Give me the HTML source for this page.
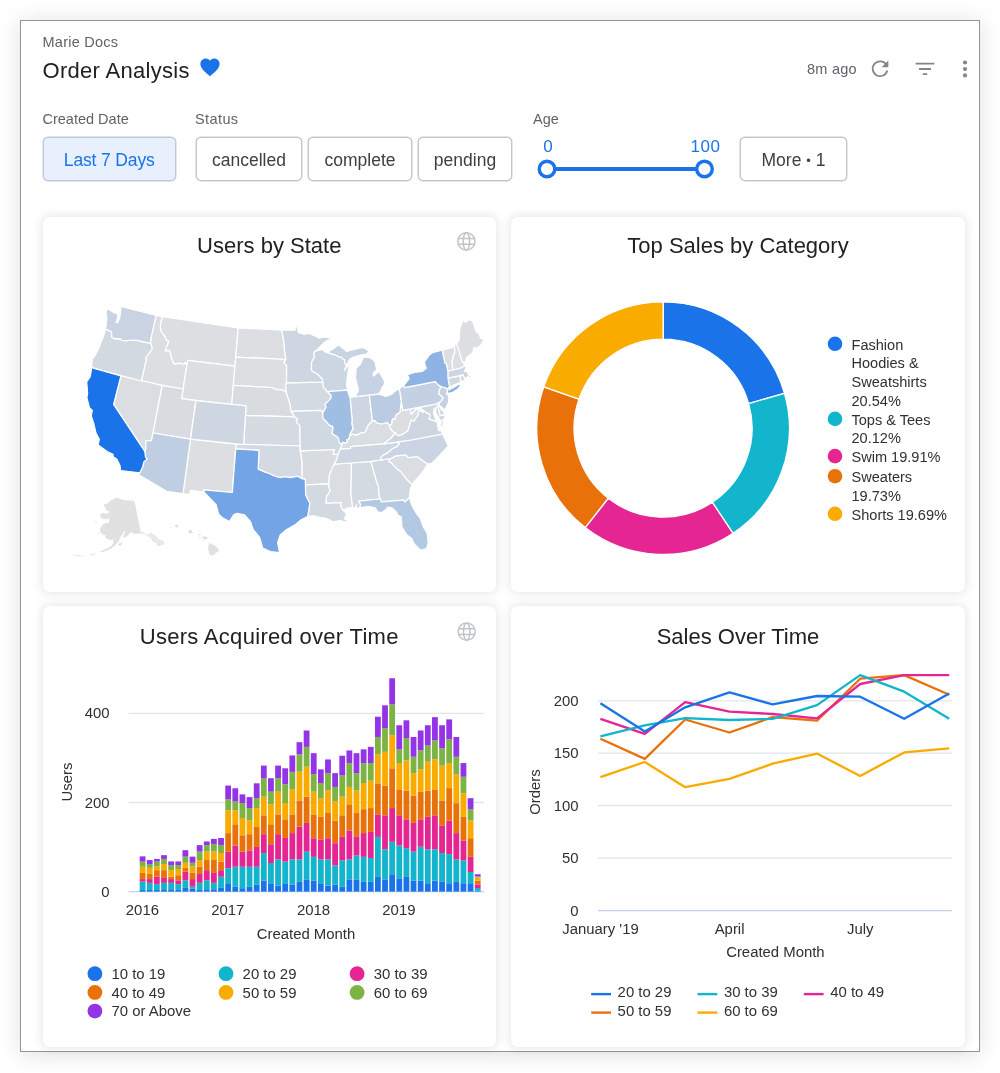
<!DOCTYPE html>
<html><head><meta charset="utf-8">
<style>
*{box-sizing:border-box;margin:0;padding:0}
html,body{width:1000px;height:1073px;background:#fff;overflow:hidden}
body{font-family:"Liberation Sans",sans-serif;position:relative;color:#202124}
.frame{position:absolute;left:20px;top:20px;width:960px;height:1032.3px;border:1px solid #90969c;background:#fff;box-shadow:0 2px 22px rgba(0,0,0,.13)}
.abs{position:absolute;white-space:nowrap}
.card{position:absolute;background:#fff;border-radius:7px;box-shadow:0 0 9px 3px rgba(0,0,0,.075)}
.lbl{color:#5f6368;font-size:14.5px;letter-spacing:.25px}
.btn{position:absolute;height:44px;top:137px;border:1px solid #c3c7cc;box-shadow:0 0 0 .45px #c3c7cc;border-radius:5px;background:#fff;color:#3c4043;font-size:17.5px;line-height:44.6px;text-align:center;white-space:nowrap}
.title{position:absolute;left:0;width:100%;text-align:center;font-size:22px;color:#202124;white-space:nowrap}
svg{position:absolute;left:0;top:0;overflow:visible}
svg text{font-family:"Liberation Sans",sans-serif}
.lg{font-size:14.9px;fill:#2d3034}
.ax{font-size:14.9px;fill:#2d3034}
</style></head><body>
<div class="frame"></div>
<div class="abs lbl" style="left:42.5px;top:33.5px;">Marie Docs</div>
<div class="abs" style="left:42.5px;top:58.2px;font-size:22px;color:#202124;letter-spacing:.3px">Order Analysis</div>
<div class="abs lbl" style="left:807px;top:60.5px;">8m ago</div>
<div class="abs lbl" style="left:42.5px;top:111.3px;letter-spacing:0">Created Date</div>
<div class="abs lbl" style="left:195px;top:111.3px;letter-spacing:.4px">Status</div>
<div class="abs lbl" style="left:533px;top:111.3px;letter-spacing:0">Age</div>
<div class="btn" style="left:43px;width:132.5px;background:#e8f0fe;border-color:#c0c9d8;box-shadow:0 0 0 .45px #c0c9d8;color:#1a73e8;letter-spacing:-.15px">Last 7 Days</div>
<div class="btn" style="left:196px;width:106px">cancelled</div>
<div class="btn" style="left:308px;width:104px">complete</div>
<div class="btn" style="left:418px;width:94px">pending</div>
<div class="btn" style="left:740px;width:107px">More <span style="font-size:13px;position:relative;top:-1px">•</span> 1</div>
<div class="abs" style="left:543.3px;top:137px;font-size:17px;color:#1a73e8">0</div>
<div class="abs" style="left:690.5px;top:137px;letter-spacing:.5px;font-size:17px;color:#1a73e8">100</div>
<div class="card" style="left:42.5px;top:216.5px;width:453.5px;height:375.5px"><div class="title" style="top:16.5px">Users by State</div></div>
<div class="card" style="left:511px;top:216.5px;width:454px;height:375.5px"><div class="title" style="top:16.5px">Top Sales by Category</div></div>
<div class="card" style="left:42.5px;top:606px;width:453.5px;height:440.5px"><div class="title" style="top:17.5px;letter-spacing:.3px">Users Acquired over Time</div></div>
<div class="card" style="left:511px;top:606px;width:454px;height:440.5px"><div class="title" style="top:17.5px">Sales Over Time</div></div>
<svg width="1000" height="1073" viewBox="0 0 1000 1073">
<!-- header icons -->
<path fill="#1a73e8" d="M210 76.3C204.6 71.6 200.4 68.3 200.4 64C200.4 60.9 202.8 58.6 205.7 58.6C207.4 58.6 209 59.4 210 60.8C211 59.4 212.6 58.6 214.3 58.6C217.2 58.6 219.6 60.9 219.6 64C219.6 68.3 215.4 71.6 210 76.3Z"/>
<g fill="none" stroke="#80868b" stroke-width="1.8">
<path d="M886.6 65.2A7.4 7.4 0 1 0 887.3 70.5"/>
<path d="M915.6 63.6H934.4M919 69H931M922.8 74.2H927.2"/>
</g>
<path fill="#80868b" d="M888.3 60.6V67.2H881.7Z"/>
<g fill="#80868b"><circle cx="965" cy="62.5" r="2.1"/><circle cx="965" cy="69" r="2.1"/><circle cx="965" cy="75.4" r="2.1"/></g>
<!-- slider -->
<path d="M547 169H704.5" stroke="#1a73e8" stroke-width="4"/>
<circle cx="547" cy="169" r="7.8" fill="#fff" stroke="#1a73e8" stroke-width="3.4"/>
<circle cx="704.5" cy="169" r="7.8" fill="#fff" stroke="#1a73e8" stroke-width="3.4"/>
<!-- globes -->
<g fill="none" stroke="#c0c4c9" stroke-width="1.5">
<g><circle cx="466.4" cy="241.4" r="8.6"/><ellipse cx="466.4" cy="241.4" rx="3.2" ry="8.6"/><path d="M458.4 238.5H474.4M458.4 244.3H474.4"/></g>
<g transform="translate(0.3,390.2)"><circle cx="466.4" cy="241.4" r="8.6"/><ellipse cx="466.4" cy="241.4" rx="3.2" ry="8.6"/><path d="M458.4 238.5H474.4M458.4 244.3H474.4"/></g>
</g>
<g stroke="#fff" stroke-width="1.25" stroke-linejoin="round">
<path fill="#dcdee1" d="M156.1 315.3L162.3 316.6L160.3 326.1L161.3 331.8L163.5 334.4L165.3 337.5L167.0 340.5L168.7 340.8L167.5 345.0L165.3 350.9L169.6 350.3L170.2 352.4L171.5 358.1L173.7 363.4L175.0 364.1L178.6 363.2L184.0 364.1L185.1 362.4L186.9 365.3L183.1 389.0L162.2 385.3L141.4 381.0L145.2 364.0L146.4 359.8L145.4 358.1L148.9 353.4L152.2 349.2L151.2 345.1L150.6 343.4L150.7 339.3Z"/>
<path fill="#dcdee1" d="M162.3 316.6L238.2 327.9L235.0 366.1L187.7 360.4L186.9 365.3L185.1 362.4L184.0 364.1L178.6 363.2L175.0 364.1L173.7 363.4L171.5 358.1L170.2 352.4L169.6 350.3L165.3 350.9L167.5 345.0L168.7 340.8L167.0 340.5L165.3 337.5L163.5 334.4L161.3 331.8L160.3 326.1Z"/>
<path fill="#dcdee1" d="M187.7 360.4L235.0 366.1L231.7 404.7L181.6 398.6Z"/>
<path fill="#dcdee1" d="M190.5 439.2L236.4 444.1L235.7 448.9L232.3 492.5L203.5 489.8L204.0 492.0L190.4 490.3L189.8 494.7L183.0 493.7Z"/>
<path fill="#dcdee1" d="M238.2 327.9L281.8 330.1L282.6 334.8L284.1 343.4L284.4 350.1L285.9 359.5L235.7 357.1Z"/>
<path fill="#dcdee1" d="M235.7 357.1L285.9 359.5L283.9 362.6L286.6 365.5L286.5 382.9L285.5 385.8L286.5 392.7L282.6 390.0L276.3 389.6L272.1 387.5L233.3 385.4Z"/>
<path fill="#dcdee1" d="M401.3 401.6L402.8 410.4L410.3 409.1L411.2 414.1L414.2 411.1L415.8 409.3L419.7 408.1L423.7 410.6L423.3 412.5L418.9 410.1L418.2 414.5L416.4 417.5L413.8 421.3L410.9 420.0L410.8 421.5L409.3 426.2L407.8 430.9L404.0 433.5L401.6 434.9L398.0 435.9L395.4 433.0L395.4 433.0L392.7 431.8L389.8 427.6L389.5 425.2L391.6 424.1L391.9 421.1L392.7 418.7L394.8 419.2L395.7 415.9L396.4 414.3L399.6 412.6L400.3 411.5L400.3 409.0L400.7 407.0L401.0 404.0L401.3 401.6Z"/>
<path fill="#dcdee1" d="M442.3 350.2L454.4 347.0L455.0 351.9L453.0 356.4L452.7 359.5L452.0 361.7L452.4 364.6L452.6 367.5L453.5 370.0L447.9 371.2L446.2 363.6L445.1 363.4L444.2 359.6L443.1 354.9Z"/>
<path fill="#dcdee1" d="M454.4 347.0L454.6 345.0L456.5 343.6L459.0 350.9L462.0 361.1L464.6 363.7L464.3 365.8L461.7 367.8L453.5 370.0L452.6 367.5L452.4 364.6L452.0 361.7L452.7 359.5L453.0 356.4L455.0 351.9Z"/>
<path fill="#dcdee1" d="M456.5 343.6L458.0 342.1L459.6 337.7L459.3 332.8L459.9 328.7L462.8 320.3L465.6 322.2L468.9 319.5L472.8 321.2L476.2 331.9L479.2 334.0L480.5 338.1L484.3 339.4L481.4 344.4L477.5 348.1L473.8 347.7L473.0 352.5L468.9 355.7L466.3 357.9L465.1 362.7L464.6 363.7L462.0 361.1L459.0 350.9Z"/>
<path fill="#dadde1" d="M120.9 376.0L162.2 385.3L153.0 433.0L151.5 440.7L146.4 440.7L145.8 441.6L145.7 449.5L144.8 451.3L113.6 404.3Z"/>
<path fill="#dadde1" d="M328.6 483.9L329.3 475.1L332.1 468.2L334.2 464.2L350.6 463.0L351.5 463.9L350.9 493.1L352.6 507.5L348.5 507.9L342.8 510.2L340.4 505.5L341.2 502.6L325.9 503.4L326.4 496.6L330.1 490.6L329.2 488.7Z"/>
<path fill="#dadde1" d="M340.2 449.2L342.0 444.4L342.4 442.2L345.9 443.2L347.2 441.8L346.6 439.9L349.0 438.9L349.5 435.8L352.7 434.0L356.6 435.1L360.9 432.8L364.7 432.4L366.3 429.6L368.4 424.8L372.4 420.8L374.6 420.5L377.1 423.1L381.8 424.0L387.2 422.3L389.5 425.2L389.8 427.6L392.7 431.8L395.4 433.0L390.6 438.5L383.7 443.8L350.4 446.6L350.6 448.4Z"/>
<path fill="#dadde1" d="M390.3 458.7L395.8 455.9L405.9 454.9L408.3 457.7L417.1 456.5L427.4 464.0L423.5 471.1L418.4 476.9L414.9 480.9L412.2 484.5L407.0 479.8L401.4 472.3L395.5 467.7L390.8 462.5L388.7 461.8L390.3 458.7Z"/>
<path fill="#d8dce1" d="M162.2 385.3L183.1 389.0L181.6 398.6L195.9 400.7L190.5 439.2L153.0 433.0Z"/>
<path fill="#d8dce1" d="M233.3 385.4L272.1 387.5L276.3 389.6L282.6 390.0L286.5 392.7L287.2 395.5L288.9 400.4L290.4 405.2L290.7 410.1L291.3 411.3L294.8 416.9L245.4 415.5L246.1 405.8L231.7 404.7Z"/>
<path fill="#d8dce1" d="M300.2 450.8L334.5 449.5L333.1 454.5L338.3 454.2L336.3 460.1L334.2 464.2L332.1 468.2L329.3 475.1L328.6 483.9L305.4 484.8L305.3 479.4L301.8 478.6L301.9 461.5Z"/>
<path fill="#d8dce1" d="M459.8 375.6L462.6 374.7L465.7 379.1L464.0 380.6L461.0 382.2Z"/>
<path fill="#d6dbe1" d="M245.4 415.5L294.8 416.9L297.7 419.0L296.3 421.2L297.8 423.6L299.9 425.4L300.2 446.0L243.6 444.6Z"/>
<path fill="#d6dbe1" d="M436.9 403.9L438.0 402.5L439.5 402.5L439.1 405.6L441.0 409.2L443.8 411.5L444.9 414.8L440.1 415.7Z"/>
<path fill="#d4dae1" d="M236.4 444.1L300.2 446.0L300.2 450.8L301.9 461.5L301.8 478.6L297.6 476.3L289.6 477.6L284.9 476.7L280.1 477.6L274.2 476.0L269.1 473.5L264.4 471.9L258.2 469.1L259.0 450.3L235.7 448.9Z"/>
<path fill="#d4dae1" d="M286.5 382.9L322.9 382.1L323.4 386.9L327.4 391.6L331.1 395.2L331.0 398.1L328.3 401.2L324.9 404.3L326.1 407.2L323.1 412.2L320.7 410.4L291.3 411.3L290.7 410.1L290.4 405.2L288.9 400.4L287.2 395.5L286.5 392.7L285.5 385.8Z"/>
<path fill="#d4dae1" d="M350.6 463.0L370.9 461.3L376.5 481.2L378.5 486.5L379.0 493.8L380.0 499.0L358.7 501.2L360.6 504.4L360.1 507.9L356.0 508.7L356.5 504.8L355.1 507.8L352.6 507.5L350.9 493.1L351.5 463.9Z"/>
<path fill="#d2d9e1" d="M105.1 329.0L109.1 330.7L111.0 331.4L111.8 333.7L111.6 336.9L114.5 338.8L120.1 338.7L121.8 340.3L126.6 340.6L133.0 340.0L137.0 340.3L150.6 343.4L151.2 345.1L152.2 349.2L148.9 353.4L145.4 358.1L146.4 359.8L145.2 364.0L141.4 381.0L91.5 367.7L92.2 359.3L95.5 354.8L98.2 349.5L100.3 344.1L102.5 338.7L104.8 332.4Z"/>
<path fill="#d2d9e1" d="M305.4 484.8L328.6 483.9L329.2 488.7L330.1 490.6L326.4 496.6L325.9 503.4L341.2 502.6L340.4 505.5L342.8 510.2L344.6 511.5L346.5 514.8L344.2 518.8L348.5 519.9L345.3 522.1L340.1 520.5L332.6 521.9L329.1 519.7L324.8 518.0L320.6 517.7L313.0 515.7L307.6 516.6L308.7 510.8L309.8 503.0L307.6 499.2L305.6 494.4Z"/>
<path fill="#d2d9e1" d="M448.0 378.2L459.8 375.6L461.0 382.2L456.7 383.9L454.0 384.7L452.4 386.1L449.3 388.3L448.5 387.5L450.0 386.1L449.3 385.3Z"/>
<path fill="#d0d8e1" d="M291.3 411.3L320.7 410.4L323.1 412.2L322.6 417.1L323.7 419.0L326.9 422.2L328.6 424.6L330.0 425.6L332.7 426.3L333.0 428.9L331.8 433.1L334.7 435.2L336.7 436.2L338.7 438.5L338.8 441.5L339.8 443.3L342.0 444.4L340.2 449.2L339.2 451.2L338.3 454.2L333.1 454.5L334.5 449.5L300.2 450.8L299.9 425.4L297.8 423.6L296.3 421.2L297.7 419.0L294.8 416.9Z"/>
<path fill="#d0d8e1" d="M410.3 409.1L436.9 403.9L440.1 415.7L444.9 414.8L444.4 419.1L441.5 420.5L439.8 420.9L439.0 417.6L435.8 413.3L436.0 407.3L434.1 408.7L433.4 412.8L435.3 418.3L437.2 421.9L437.2 421.9L431.9 420.1L429.0 419.1L429.8 415.5L429.5 414.1L425.7 412.4L423.7 410.6L423.7 410.6L419.7 408.1L415.8 409.3L414.2 411.1L411.2 414.1Z"/>
<path fill="#d0d8e1" d="M370.9 461.3L380.8 460.0L390.3 458.7L388.7 461.8L390.8 462.5L395.5 467.7L401.4 472.3L407.0 479.8L412.2 484.5L410.2 490.0L409.4 497.8L405.0 502.0L403.4 500.1L381.5 501.8L380.0 499.0L380.0 499.0L379.0 493.8L378.5 486.5L376.5 481.2Z"/>
<path fill="#ced7e1" d="M195.9 400.7L246.1 405.8L243.6 444.6L190.5 439.2Z"/>
<path fill="#ced7e1" d="M281.8 330.1L295.1 330.1L295.1 326.5L297.3 327.0L298.3 332.4L303.8 334.2L309.3 333.4L315.5 336.2L319.5 338.2L323.3 336.8L331.9 338.2L325.5 341.5L319.3 347.5L315.5 351.1L314.2 352.1L314.4 357.4L311.6 362.3L311.5 370.5L317.1 373.7L322.2 378.7L322.9 382.1L286.5 382.9L286.6 365.5L283.9 362.6L285.9 359.5L284.4 350.1L284.1 343.4L282.6 334.8Z"/>
<path fill="#ced7e1" d="M334.2 464.2L336.3 460.1L338.3 454.2L339.2 451.2L340.2 449.2L350.6 448.4L350.4 446.6L383.7 443.8L398.9 441.8L399.1 444.1L396.8 446.9L392.8 448.5L389.3 451.4L386.4 453.6L382.4 455.8L380.7 457.9L380.8 460.0L370.9 461.3L350.6 463.0Z"/>
<path fill="#ced7e1" d="M349.5 435.8L350.1 433.8L353.0 428.6L351.8 423.9L352.1 420.4L350.1 397.7L352.3 396.9L355.2 396.6L369.3 395.1L372.4 420.8L368.4 424.8L366.3 429.6L364.7 432.4L360.9 432.8L356.6 435.1L352.7 434.0L349.5 435.8Z"/>
<path fill="#ced7e1" d="M383.7 443.8L398.9 441.8L409.4 440.5L442.8 434.2L441.5 431.0L438.7 430.6L437.6 425.3L437.2 421.9L431.9 420.1L429.0 419.1L429.8 415.5L429.5 414.1L425.7 412.4L423.7 410.6L423.3 412.5L418.9 410.1L418.2 414.5L416.4 417.5L413.8 421.3L410.9 420.0L410.8 421.5L409.3 426.2L407.8 430.9L404.0 433.5L401.6 434.9L398.0 435.9L395.4 433.0L390.6 438.5L383.7 443.8Z"/>
<path fill="#ced7e1" d="M441.0 428.9L442.8 424.7L443.8 420.5L444.4 419.1L441.5 420.5L440.5 424.7L440.3 427.2Z"/>
<path fill="#ccd5e2" d="M315.5 351.1L322.7 349.3L324.5 351.6L326.8 352.4L335.7 355.2L339.2 356.9L341.9 357.1L342.6 358.7L344.8 359.8L344.7 362.7L345.9 364.8L346.6 365.1L344.4 370.5L350.2 362.7L348.9 367.2L348.0 372.6L347.1 378.5L346.5 385.3L347.4 387.7L347.4 390.1L327.4 391.6L323.4 386.9L322.9 382.1L322.9 382.1L322.2 378.7L317.1 373.7L311.5 370.5L311.6 362.3L314.4 357.4L314.2 352.1Z"/>
<path fill="#ccd5e2" d="M448.0 378.2L447.9 371.2L453.5 370.0L461.7 367.8L464.3 365.8L466.4 367.4L464.5 371.4L466.7 371.3L467.9 373.5L469.3 375.5L472.7 374.4L472.1 373.1L470.7 372.5L470.6 372.0L471.6 371.9L472.7 373.2L473.5 375.3L471.0 376.4L468.9 378.0L467.9 376.3L465.7 379.1L462.6 374.7L459.8 375.6Z"/>
<path fill="#cbd4e2" d="M380.8 460.0L380.7 457.9L382.4 455.8L386.4 453.6L389.3 451.4L392.8 448.5L396.8 446.9L399.1 444.1L398.9 441.8L409.4 440.5L442.8 434.2L448.3 445.9L441.8 453.2L432.1 463.1L427.4 464.0L427.4 464.0L417.1 456.5L408.3 457.7L405.9 454.9L395.8 455.9L390.3 458.7Z"/>
<path fill="#c9d3e2" d="M121.1 306.3L156.1 315.3L150.7 339.3L150.6 343.4L137.0 340.3L133.0 340.0L126.6 340.6L121.8 340.3L120.1 338.7L114.5 338.8L111.6 336.9L111.8 333.7L111.0 331.4L109.1 330.7L105.1 329.0L106.4 324.8L106.4 322.4L106.9 318.5L106.0 312.7L106.9 308.2L113.2 312.3L117.8 313.9L117.5 318.1L116.1 322.2L117.7 322.7L119.4 318.7L120.5 314.0L120.6 310.1Z"/>
<path fill="#c7d2e2" d="M369.3 395.1L355.2 396.6L358.4 390.1L355.5 378.2L356.1 367.9L360.2 364.6L363.5 356.9L368.9 357.3L371.8 358.8L375.0 361.8L376.7 369.4L373.1 373.7L373.4 376.1L379.0 371.5L384.5 381.0L384.4 384.4L382.3 387.2L380.8 390.5L378.9 394.2Z"/>
<path fill="#c7d2e2" d="M326.8 352.4L335.7 355.2L339.2 356.9L341.9 357.1L342.6 358.7L344.8 359.8L344.7 362.7L345.9 364.8L346.6 365.1L350.1 358.8L354.6 356.5L363.2 354.6L365.2 354.8L368.9 351.9L366.9 349.3L362.4 347.4L355.2 349.1L346.8 351.4L342.5 347.9L339.3 345.3L342.7 342.6L337.0 346.0L332.0 349.7Z"/>
<path fill="#c5d1e2" d="M399.2 388.7L404.1 385.1L404.5 387.6L435.3 381.6L438.2 384.9L441.1 386.6L439.2 391.1L439.1 394.1L443.3 397.7L441.4 401.1L439.5 402.5L438.0 402.5L436.9 403.9L402.8 410.4Z"/>
<path fill="#c5d1e2" d="M441.1 386.6L447.5 388.7L447.4 391.8L446.2 394.0L448.1 394.1L448.9 400.9L447.5 404.7L444.9 410.0L441.3 407.1L439.1 405.6L439.5 402.5L441.4 401.1L443.3 397.7L439.1 394.1L439.2 391.1L441.1 386.6Z"/>
<path fill="#bfcee2" d="M153.0 433.0L190.5 439.2L183.0 493.7L166.6 491.3L138.7 474.9L139.8 472.8L142.7 466.7L143.8 461.9L147.2 458.9L145.5 457.3L144.8 451.3L145.7 449.5L145.8 441.6L146.4 440.7L151.5 440.7Z"/>
<path fill="#bbcce2" d="M369.3 395.1L378.9 394.2L383.1 395.4L386.1 396.4L389.5 395.0L391.9 394.1L394.1 391.8L399.2 388.7L401.3 401.6L401.0 404.0L400.7 407.0L400.3 409.0L400.3 411.5L399.6 412.6L396.4 414.3L395.7 415.9L394.8 419.2L392.7 418.7L391.9 421.1L391.6 424.1L389.5 425.2L389.5 425.2L387.2 422.3L381.8 424.0L377.1 423.1L374.6 420.5L372.4 420.8Z"/>
<path fill="#b3c8e2" d="M358.7 501.2L380.0 499.0L381.5 501.8L403.4 500.1L405.0 502.0L409.4 497.8L411.8 505.4L416.5 513.5L420.2 518.2L423.4 526.9L427.2 533.1L428.2 542.6L426.6 548.7L420.6 550.3L414.2 543.9L411.7 538.5L407.3 535.2L405.7 533.5L403.9 529.9L402.8 528.6L401.7 526.4L401.7 523.4L401.2 516.7L398.0 515.2L396.8 512.5L391.9 507.8L387.6 507.1L386.6 508.9L381.5 512.5L378.1 512.1L375.1 507.8L368.3 506.3L360.1 507.9L360.6 504.4Z"/>
<path fill="#a0bde3" d="M342.0 444.4L339.8 443.3L338.8 441.5L338.7 438.5L336.7 436.2L334.7 435.2L331.8 433.1L333.0 428.9L332.7 426.3L330.0 425.6L328.6 424.6L326.9 422.2L323.7 419.0L322.6 417.1L323.1 412.2L326.1 407.2L324.9 404.3L328.3 401.2L331.0 398.1L331.1 395.2L327.4 391.6L347.4 390.1L349.4 396.3L350.1 397.7L352.1 420.4L351.8 423.9L353.0 428.6L350.1 433.8L349.5 435.8L349.0 438.9L346.6 439.9L347.2 441.8L345.9 443.2L342.4 442.2L342.0 444.4Z"/>
<path fill="#8eb3e4" d="M404.5 387.6L404.1 385.1L409.1 378.5L407.3 374.6L414.3 372.4L422.6 371.4L426.2 368.2L424.3 362.2L429.6 354.6L433.3 352.3L442.3 350.2L443.1 354.9L444.2 359.6L445.1 363.4L446.2 363.6L447.9 371.2L448.0 378.2L449.3 385.3L450.0 386.1L448.5 387.5L449.3 388.3L448.7 390.0L456.5 385.8L458.3 384.3L461.6 384.2L458.0 389.0L452.8 392.3L448.0 393.6L447.4 391.8L447.5 388.7L441.1 386.6L438.2 384.9L435.3 381.6Z"/>
<path fill="#73a4e5" d="M235.7 448.9L259.0 450.3L258.2 469.1L264.4 471.9L269.1 473.5L274.2 476.0L280.1 477.6L284.9 476.7L289.6 477.6L297.6 476.3L301.8 478.6L305.3 479.4L305.6 494.4L307.6 499.2L309.8 503.0L308.7 510.8L307.6 516.6L300.6 520.1L295.6 524.5L286.3 529.8L280.2 535.0L277.6 542.7L279.6 552.6L270.4 551.6L262.7 548.0L259.6 537.4L253.1 529.5L250.5 521.6L244.6 514.9L237.1 513.3L233.7 514.8L229.4 521.5L222.5 517.8L218.6 514.1L216.1 504.7L207.9 496.1L204.0 492.0L203.5 489.8L232.3 492.5Z"/>
<path fill="#1a73e8" d="M91.5 367.7L120.9 376.0L113.6 404.3L144.8 451.3L145.5 457.3L147.2 458.9L143.8 461.9L142.7 466.7L139.8 472.8L120.5 470.6L120.1 465.8L116.7 459.1L113.2 456.7L113.0 454.2L107.5 451.7L98.2 445.0L99.3 439.2L95.9 432.8L93.7 423.1L91.3 416.3L91.7 412.9L92.5 410.6L89.4 407.7L86.9 397.8L87.6 393.0L86.7 382.0L90.3 376.5L91.3 370.2Z"/>
</g>
<g fill="#e1e1e1">
<path d="M134.6 501.4L131.5 500.5L128.6 500.6L125.6 500.2L123.3 500.0L121.0 498.9L118.7 498.5L116.4 497.3L114.2 499.0L111.8 500.1L109.3 501.5L107.8 503.6L104.4 504.2L103.3 505.7L105.3 507.3L106.4 510.5L108.7 511.2L108.7 513.2L105.9 513.8L103.0 513.0L99.8 514.4L101.3 518.2L102.8 518.8L106.3 519.3L109.3 518.3L108.8 523.0L106.6 522.8L103.3 524.0L101.2 527.1L100.1 528.6L100.4 532.1L102.4 534.8L105.0 534.8L105.5 538.0L107.9 539.3L110.5 540.2L113.2 539.3L113.0 543.7L111.0 546.0L107.1 548.3L103.0 550.3L98.8 552.0L103.8 551.7L107.8 550.1L110.8 548.7L114.7 545.5L117.5 542.8L119.3 540.5L120.1 537.8L122.6 533.7L124.1 531.2L125.7 531.2L123.5 535.3L123.1 538.1L126.1 536.9L128.5 535.0L130.7 532.1L132.5 532.9L135.1 533.9L139.3 533.6L141.0 533.6L143.8 533.6L144.0 532.3L140.8 532.3Z"/>
<path fill="#e9e9e9" d="M143.8 533.6L146.9 536.1L149.9 537.4L152.7 540.9L156.4 543.3L160.1 545.6L163.1 545.3L164.3 543.1L163.2 540.6L159.2 539.5L155.0 535.2L151.3 532.8L148.8 533.2L147.6 535.6L144.0 532.3Z"/>
<path d="M117.8 544.5L121.1 542.2L122.3 543.5L120.2 545.9Z"/>
<path d="M95.5 553.9L92.2 555.3L89.3 556.0L91.3 554.4L94.6 553.4Z"/>
<path d="M84.5 556.6L77.2 555.9L72.3 555.3L78.5 555.0Z"/>
<path d="M92.9 520.0L96.8 521.7L97.0 522.8L94.6 521.2Z"/>
<path d="M99.4 532.6L99.8 534.1L96.9 533.2Z"/>
<path d="M157.3 543.0L159.5 543.7L159.4 546.6L157.0 544.9Z"/>
<path d="M151.5 538.4L153.8 539.9L155.0 542.7L152.6 540.9Z"/>
<path d="M209.3 543.1L215.7 546.1L219.3 550.4L212.1 556.0L209.4 554.3L208.0 548.6Z"/>
<path d="M202.0 536.6L205.7 536.6L208.4 538.0L204.8 540.1L202.5 538.0Z"/>
<path d="M196.6 534.2L201.9 534.5L199.3 535.5Z"/>
<path d="M198.9 536.9L200.9 538.0L199.6 538.7Z"/>
<path d="M187.8 530.6L190.7 529.4L193.4 533.2L189.4 533.4Z"/>
<path d="M174.3 526.0L177.3 524.3L178.6 526.5L176.8 527.7Z"/>
<path d="M170.0 527.3L171.4 526.4L171.4 527.8Z"/>
</g>
<path fill="#1a73e8" stroke="#fff" stroke-width="1.3" d="M663.10 301.90A126.3 126.3 0 0 1 784.48 393.28L748.63 403.60A89.0 89.0 0 0 0 663.10 339.20Z"/>
<path fill="#12b5cb" stroke="#fff" stroke-width="1.3" d="M784.48 393.28A126.3 126.3 0 0 1 733.01 533.39L712.36 502.32A89.0 89.0 0 0 0 748.63 403.60Z"/>
<path fill="#e52592" stroke="#fff" stroke-width="1.3" d="M733.01 533.39A126.3 126.3 0 0 1 585.21 527.63L608.22 498.26A89.0 89.0 0 0 0 712.36 502.32Z"/>
<path fill="#e8710a" stroke="#fff" stroke-width="1.3" d="M585.21 527.63A126.3 126.3 0 0 1 543.76 386.85L579.00 399.06A89.0 89.0 0 0 0 608.22 498.26Z"/>
<path fill="#f9ab00" stroke="#fff" stroke-width="1.3" d="M543.76 386.85A126.3 126.3 0 0 1 663.10 301.90L663.10 339.20A89.0 89.0 0 0 0 579.00 399.06Z"/>
<circle cx="835" cy="343.8" r="7.3" fill="#1a73e8"/>
<circle cx="835" cy="418.9" r="7.3" fill="#12b5cb"/>
<circle cx="835" cy="456.1" r="7.3" fill="#e52592"/>
<circle cx="835" cy="476.2" r="7.3" fill="#e8710a"/>
<circle cx="835" cy="513.8" r="7.3" fill="#f9ab00"/>
<text x="851.5" y="349.8" class="lg" style="font-size:14.55px">Fashion</text>
<text x="851.5" y="368.4" class="lg" style="font-size:14.55px">Hoodies &amp;</text>
<text x="851.5" y="387.2" class="lg" style="font-size:14.55px">Sweatshirts</text>
<text x="851.5" y="405.8" class="lg" style="font-size:14.55px">20.54%</text>
<text x="851.5" y="424.8" class="lg" style="font-size:14.55px">Tops &amp; Tees</text>
<text x="851.5" y="443.3" class="lg" style="font-size:14.55px">20.12%</text>
<text x="851.5" y="462.3" class="lg" style="font-size:14.55px">Swim 19.91%</text>
<text x="851.5" y="482" class="lg" style="font-size:14.55px">Sweaters</text>
<text x="851.5" y="500.6" class="lg" style="font-size:14.55px">19.73%</text>
<text x="851.5" y="519.6" class="lg" style="font-size:14.55px">Shorts 19.69%</text>
<path d="M128.7 713.4H484M128.7 802.5H484" stroke="#e4e5e8" stroke-width="1.3"/>
<path d="M128.7 891.6H484" stroke="#c3d1ec" stroke-width="1.3"/>
<rect x="139.70" y="889.94" width="5.8" height="1.66" fill="#1a73e8"/>
<rect x="139.70" y="881.66" width="5.8" height="8.28" fill="#12b5cb"/>
<rect x="139.70" y="879.09" width="5.8" height="2.58" fill="#e52592"/>
<rect x="139.70" y="872.92" width="5.8" height="6.16" fill="#e8710a"/>
<rect x="139.70" y="866.76" width="5.8" height="6.16" fill="#f9ab00"/>
<rect x="139.70" y="861.61" width="5.8" height="5.15" fill="#7cb342"/>
<rect x="139.70" y="856.37" width="5.8" height="5.24" fill="#9334e6"/>
<rect x="146.83" y="889.94" width="5.8" height="1.66" fill="#1a73e8"/>
<rect x="146.83" y="882.86" width="5.8" height="7.08" fill="#12b5cb"/>
<rect x="146.83" y="879.09" width="5.8" height="3.77" fill="#e52592"/>
<rect x="146.83" y="874.03" width="5.8" height="5.06" fill="#e8710a"/>
<rect x="146.83" y="867.86" width="5.8" height="6.16" fill="#f9ab00"/>
<rect x="146.83" y="864.00" width="5.8" height="3.86" fill="#7cb342"/>
<rect x="146.83" y="860.05" width="5.8" height="3.96" fill="#9334e6"/>
<rect x="153.96" y="889.94" width="5.8" height="1.66" fill="#1a73e8"/>
<rect x="153.96" y="884.15" width="5.8" height="5.80" fill="#12b5cb"/>
<rect x="153.96" y="876.79" width="5.8" height="7.36" fill="#e52592"/>
<rect x="153.96" y="870.16" width="5.8" height="6.62" fill="#e8710a"/>
<rect x="153.96" y="866.49" width="5.8" height="3.68" fill="#f9ab00"/>
<rect x="153.96" y="861.61" width="5.8" height="4.88" fill="#7cb342"/>
<rect x="153.96" y="858.94" width="5.8" height="2.67" fill="#9334e6"/>
<rect x="161.09" y="889.21" width="5.8" height="2.39" fill="#1a73e8"/>
<rect x="161.09" y="882.86" width="5.8" height="6.35" fill="#12b5cb"/>
<rect x="161.09" y="877.98" width="5.8" height="4.88" fill="#e52592"/>
<rect x="161.09" y="870.16" width="5.8" height="7.82" fill="#e8710a"/>
<rect x="161.09" y="864.00" width="5.8" height="6.16" fill="#f9ab00"/>
<rect x="161.09" y="858.94" width="5.8" height="5.06" fill="#7cb342"/>
<rect x="161.09" y="855.17" width="5.8" height="3.77" fill="#9334e6"/>
<rect x="168.22" y="889.21" width="5.8" height="2.39" fill="#1a73e8"/>
<rect x="168.22" y="882.86" width="5.8" height="6.35" fill="#12b5cb"/>
<rect x="168.22" y="879.09" width="5.8" height="3.77" fill="#e52592"/>
<rect x="168.22" y="876.60" width="5.8" height="2.48" fill="#e8710a"/>
<rect x="168.22" y="870.16" width="5.8" height="6.44" fill="#f9ab00"/>
<rect x="168.22" y="865.11" width="5.8" height="5.06" fill="#7cb342"/>
<rect x="168.22" y="861.43" width="5.8" height="3.68" fill="#9334e6"/>
<rect x="175.35" y="889.94" width="5.8" height="1.66" fill="#1a73e8"/>
<rect x="175.35" y="884.15" width="5.8" height="5.80" fill="#12b5cb"/>
<rect x="175.35" y="880.28" width="5.8" height="3.86" fill="#e52592"/>
<rect x="175.35" y="875.22" width="5.8" height="5.06" fill="#e8710a"/>
<rect x="175.35" y="868.97" width="5.8" height="6.26" fill="#f9ab00"/>
<rect x="175.35" y="865.11" width="5.8" height="3.86" fill="#7cb342"/>
<rect x="175.35" y="861.43" width="5.8" height="3.68" fill="#9334e6"/>
<rect x="182.48" y="887.92" width="5.8" height="3.68" fill="#1a73e8"/>
<rect x="182.48" y="880.28" width="5.8" height="7.64" fill="#12b5cb"/>
<rect x="182.48" y="871.73" width="5.8" height="8.56" fill="#e52592"/>
<rect x="182.48" y="867.86" width="5.8" height="3.86" fill="#e8710a"/>
<rect x="182.48" y="862.81" width="5.8" height="5.06" fill="#f9ab00"/>
<rect x="182.48" y="856.64" width="5.8" height="6.16" fill="#7cb342"/>
<rect x="182.48" y="850.20" width="5.8" height="6.44" fill="#9334e6"/>
<rect x="189.61" y="888.84" width="5.8" height="2.76" fill="#1a73e8"/>
<rect x="189.61" y="886.72" width="5.8" height="2.12" fill="#12b5cb"/>
<rect x="189.61" y="879.09" width="5.8" height="7.64" fill="#e52592"/>
<rect x="189.61" y="872.92" width="5.8" height="6.16" fill="#e8710a"/>
<rect x="189.61" y="866.49" width="5.8" height="6.44" fill="#f9ab00"/>
<rect x="189.61" y="862.81" width="5.8" height="3.68" fill="#7cb342"/>
<rect x="189.61" y="856.64" width="5.8" height="6.16" fill="#9334e6"/>
<rect x="196.74" y="889.94" width="5.8" height="1.66" fill="#1a73e8"/>
<rect x="196.74" y="882.86" width="5.8" height="7.08" fill="#12b5cb"/>
<rect x="196.74" y="874.03" width="5.8" height="8.83" fill="#e52592"/>
<rect x="196.74" y="866.76" width="5.8" height="7.27" fill="#e8710a"/>
<rect x="196.74" y="860.05" width="5.8" height="6.72" fill="#f9ab00"/>
<rect x="196.74" y="851.58" width="5.8" height="8.46" fill="#7cb342"/>
<rect x="196.74" y="845.14" width="5.8" height="6.44" fill="#9334e6"/>
<rect x="203.87" y="889.21" width="5.8" height="2.39" fill="#1a73e8"/>
<rect x="203.87" y="880.28" width="5.8" height="8.92" fill="#12b5cb"/>
<rect x="203.87" y="870.16" width="5.8" height="10.12" fill="#e52592"/>
<rect x="203.87" y="860.05" width="5.8" height="10.12" fill="#e8710a"/>
<rect x="203.87" y="851.58" width="5.8" height="8.46" fill="#f9ab00"/>
<rect x="203.87" y="845.14" width="5.8" height="6.44" fill="#7cb342"/>
<rect x="203.87" y="841.46" width="5.8" height="3.68" fill="#9334e6"/>
<rect x="211.00" y="889.21" width="5.8" height="2.39" fill="#1a73e8"/>
<rect x="211.00" y="882.86" width="5.8" height="6.35" fill="#12b5cb"/>
<rect x="211.00" y="872.92" width="5.8" height="9.94" fill="#e52592"/>
<rect x="211.00" y="860.05" width="5.8" height="12.88" fill="#e8710a"/>
<rect x="211.00" y="851.58" width="5.8" height="8.46" fill="#f9ab00"/>
<rect x="211.00" y="843.95" width="5.8" height="7.64" fill="#7cb342"/>
<rect x="211.00" y="838.89" width="5.8" height="5.06" fill="#9334e6"/>
<rect x="218.13" y="887.92" width="5.8" height="3.68" fill="#1a73e8"/>
<rect x="218.13" y="876.79" width="5.8" height="11.13" fill="#12b5cb"/>
<rect x="218.13" y="870.16" width="5.8" height="6.62" fill="#e52592"/>
<rect x="218.13" y="861.61" width="5.8" height="8.56" fill="#e8710a"/>
<rect x="218.13" y="852.96" width="5.8" height="8.65" fill="#f9ab00"/>
<rect x="218.13" y="845.14" width="5.8" height="7.82" fill="#7cb342"/>
<rect x="218.13" y="837.97" width="5.8" height="7.18" fill="#9334e6"/>
<rect x="225.26" y="883.23" width="5.8" height="8.37" fill="#1a73e8"/>
<rect x="225.26" y="868.20" width="5.8" height="15.03" fill="#12b5cb"/>
<rect x="225.26" y="851.91" width="5.8" height="16.29" fill="#e52592"/>
<rect x="225.26" y="833.09" width="5.8" height="18.81" fill="#e8710a"/>
<rect x="225.26" y="810.32" width="5.8" height="22.77" fill="#f9ab00"/>
<rect x="225.26" y="799.25" width="5.8" height="11.07" fill="#7cb342"/>
<rect x="225.26" y="785.57" width="5.8" height="13.68" fill="#9334e6"/>
<rect x="232.39" y="886.83" width="5.8" height="4.77" fill="#1a73e8"/>
<rect x="232.39" y="866.76" width="5.8" height="20.07" fill="#12b5cb"/>
<rect x="232.39" y="845.43" width="5.8" height="21.33" fill="#e52592"/>
<rect x="232.39" y="824.27" width="5.8" height="21.15" fill="#e8710a"/>
<rect x="232.39" y="810.32" width="5.8" height="13.95" fill="#f9ab00"/>
<rect x="232.39" y="801.59" width="5.8" height="8.73" fill="#7cb342"/>
<rect x="232.39" y="788.27" width="5.8" height="13.32" fill="#9334e6"/>
<rect x="239.52" y="888.18" width="5.8" height="3.42" fill="#1a73e8"/>
<rect x="239.52" y="866.76" width="5.8" height="21.42" fill="#12b5cb"/>
<rect x="239.52" y="851.73" width="5.8" height="15.03" fill="#e52592"/>
<rect x="239.52" y="835.25" width="5.8" height="16.47" fill="#e8710a"/>
<rect x="239.52" y="817.97" width="5.8" height="17.28" fill="#f9ab00"/>
<rect x="239.52" y="803.12" width="5.8" height="14.85" fill="#7cb342"/>
<rect x="239.52" y="794.39" width="5.8" height="8.73" fill="#9334e6"/>
<rect x="246.65" y="886.83" width="5.8" height="4.77" fill="#1a73e8"/>
<rect x="246.65" y="866.76" width="5.8" height="20.07" fill="#12b5cb"/>
<rect x="246.65" y="850.38" width="5.8" height="16.38" fill="#e52592"/>
<rect x="246.65" y="834.17" width="5.8" height="16.20" fill="#e8710a"/>
<rect x="246.65" y="820.22" width="5.8" height="13.95" fill="#f9ab00"/>
<rect x="246.65" y="808.07" width="5.8" height="12.15" fill="#7cb342"/>
<rect x="246.65" y="797.09" width="5.8" height="10.98" fill="#9334e6"/>
<rect x="253.78" y="884.40" width="5.8" height="7.20" fill="#1a73e8"/>
<rect x="253.78" y="866.76" width="5.8" height="17.64" fill="#12b5cb"/>
<rect x="253.78" y="846.96" width="5.8" height="19.80" fill="#e52592"/>
<rect x="253.78" y="826.97" width="5.8" height="19.98" fill="#e8710a"/>
<rect x="253.78" y="808.07" width="5.8" height="18.90" fill="#f9ab00"/>
<rect x="253.78" y="798.17" width="5.8" height="9.90" fill="#7cb342"/>
<rect x="253.78" y="783.32" width="5.8" height="14.85" fill="#9334e6"/>
<rect x="260.91" y="880.53" width="5.8" height="11.07" fill="#1a73e8"/>
<rect x="260.91" y="853.08" width="5.8" height="27.45" fill="#12b5cb"/>
<rect x="260.91" y="834.17" width="5.8" height="18.90" fill="#e52592"/>
<rect x="260.91" y="815.27" width="5.8" height="18.90" fill="#e8710a"/>
<rect x="260.91" y="796.64" width="5.8" height="18.63" fill="#f9ab00"/>
<rect x="260.91" y="778.19" width="5.8" height="18.45" fill="#7cb342"/>
<rect x="260.91" y="765.59" width="5.8" height="12.60" fill="#9334e6"/>
<rect x="268.04" y="883.23" width="5.8" height="8.37" fill="#1a73e8"/>
<rect x="268.04" y="862.98" width="5.8" height="20.25" fill="#12b5cb"/>
<rect x="268.04" y="844.26" width="5.8" height="18.72" fill="#e52592"/>
<rect x="268.04" y="824.27" width="5.8" height="19.98" fill="#e8710a"/>
<rect x="268.04" y="804.29" width="5.8" height="19.98" fill="#f9ab00"/>
<rect x="268.04" y="791.69" width="5.8" height="12.60" fill="#7cb342"/>
<rect x="268.04" y="778.19" width="5.8" height="13.50" fill="#9334e6"/>
<rect x="275.17" y="885.48" width="5.8" height="6.12" fill="#1a73e8"/>
<rect x="275.17" y="859.38" width="5.8" height="26.10" fill="#12b5cb"/>
<rect x="275.17" y="834.17" width="5.8" height="25.20" fill="#e52592"/>
<rect x="275.17" y="814.37" width="5.8" height="19.80" fill="#e8710a"/>
<rect x="275.17" y="791.69" width="5.8" height="22.68" fill="#f9ab00"/>
<rect x="275.17" y="778.19" width="5.8" height="13.50" fill="#7cb342"/>
<rect x="275.17" y="765.59" width="5.8" height="12.60" fill="#9334e6"/>
<rect x="282.30" y="883.23" width="5.8" height="8.37" fill="#1a73e8"/>
<rect x="282.30" y="861.63" width="5.8" height="21.60" fill="#12b5cb"/>
<rect x="282.30" y="837.95" width="5.8" height="23.67" fill="#e52592"/>
<rect x="282.30" y="819.32" width="5.8" height="18.63" fill="#e8710a"/>
<rect x="282.30" y="803.12" width="5.8" height="16.20" fill="#f9ab00"/>
<rect x="282.30" y="784.22" width="5.8" height="18.90" fill="#7cb342"/>
<rect x="282.30" y="768.29" width="5.8" height="15.93" fill="#9334e6"/>
<rect x="289.43" y="884.40" width="5.8" height="7.20" fill="#1a73e8"/>
<rect x="289.43" y="859.38" width="5.8" height="25.02" fill="#12b5cb"/>
<rect x="289.43" y="833.09" width="5.8" height="26.28" fill="#e52592"/>
<rect x="289.43" y="814.37" width="5.8" height="18.72" fill="#e8710a"/>
<rect x="289.43" y="789.17" width="5.8" height="25.20" fill="#f9ab00"/>
<rect x="289.43" y="771.89" width="5.8" height="17.28" fill="#7cb342"/>
<rect x="289.43" y="755.42" width="5.8" height="16.47" fill="#9334e6"/>
<rect x="296.56" y="881.88" width="5.8" height="9.72" fill="#1a73e8"/>
<rect x="296.56" y="859.38" width="5.8" height="22.50" fill="#12b5cb"/>
<rect x="296.56" y="826.79" width="5.8" height="32.58" fill="#e52592"/>
<rect x="296.56" y="800.42" width="5.8" height="26.37" fill="#e8710a"/>
<rect x="296.56" y="771.62" width="5.8" height="28.80" fill="#f9ab00"/>
<rect x="296.56" y="754.25" width="5.8" height="17.37" fill="#7cb342"/>
<rect x="296.56" y="742.19" width="5.8" height="12.06" fill="#9334e6"/>
<rect x="303.69" y="879.36" width="5.8" height="12.24" fill="#1a73e8"/>
<rect x="303.69" y="851.73" width="5.8" height="27.63" fill="#12b5cb"/>
<rect x="303.69" y="822.92" width="5.8" height="28.80" fill="#e52592"/>
<rect x="303.69" y="796.64" width="5.8" height="26.28" fill="#e8710a"/>
<rect x="303.69" y="766.67" width="5.8" height="29.97" fill="#f9ab00"/>
<rect x="303.69" y="746.87" width="5.8" height="19.80" fill="#7cb342"/>
<rect x="303.69" y="730.48" width="5.8" height="16.38" fill="#9334e6"/>
<rect x="310.82" y="880.53" width="5.8" height="11.07" fill="#1a73e8"/>
<rect x="310.82" y="856.86" width="5.8" height="23.67" fill="#12b5cb"/>
<rect x="310.82" y="838.22" width="5.8" height="18.63" fill="#e52592"/>
<rect x="310.82" y="814.37" width="5.8" height="23.85" fill="#e8710a"/>
<rect x="310.82" y="791.69" width="5.8" height="22.68" fill="#f9ab00"/>
<rect x="310.82" y="774.32" width="5.8" height="17.37" fill="#7cb342"/>
<rect x="310.82" y="753.17" width="5.8" height="21.15" fill="#9334e6"/>
<rect x="317.95" y="883.23" width="5.8" height="8.37" fill="#1a73e8"/>
<rect x="317.95" y="859.38" width="5.8" height="23.85" fill="#12b5cb"/>
<rect x="317.95" y="839.39" width="5.8" height="19.98" fill="#e52592"/>
<rect x="317.95" y="816.89" width="5.8" height="22.50" fill="#e8710a"/>
<rect x="317.95" y="798.17" width="5.8" height="18.72" fill="#f9ab00"/>
<rect x="317.95" y="783.05" width="5.8" height="15.12" fill="#7cb342"/>
<rect x="317.95" y="769.37" width="5.8" height="13.68" fill="#9334e6"/>
<rect x="325.08" y="885.48" width="5.8" height="6.12" fill="#1a73e8"/>
<rect x="325.08" y="859.38" width="5.8" height="26.10" fill="#12b5cb"/>
<rect x="325.08" y="838.22" width="5.8" height="21.15" fill="#e52592"/>
<rect x="325.08" y="813.02" width="5.8" height="25.20" fill="#e8710a"/>
<rect x="325.08" y="790.52" width="5.8" height="22.50" fill="#f9ab00"/>
<rect x="325.08" y="773.15" width="5.8" height="17.37" fill="#7cb342"/>
<rect x="325.08" y="759.47" width="5.8" height="13.68" fill="#9334e6"/>
<rect x="332.21" y="884.40" width="5.8" height="7.20" fill="#1a73e8"/>
<rect x="332.21" y="865.50" width="5.8" height="18.90" fill="#12b5cb"/>
<rect x="332.21" y="843.18" width="5.8" height="22.32" fill="#e52592"/>
<rect x="332.21" y="820.49" width="5.8" height="22.68" fill="#e8710a"/>
<rect x="332.21" y="801.59" width="5.8" height="18.90" fill="#f9ab00"/>
<rect x="332.21" y="786.92" width="5.8" height="14.67" fill="#7cb342"/>
<rect x="332.21" y="773.15" width="5.8" height="13.77" fill="#9334e6"/>
<rect x="339.34" y="886.83" width="5.8" height="4.77" fill="#1a73e8"/>
<rect x="339.34" y="860.46" width="5.8" height="26.37" fill="#12b5cb"/>
<rect x="339.34" y="836.87" width="5.8" height="23.58" fill="#e52592"/>
<rect x="339.34" y="815.27" width="5.8" height="21.60" fill="#e8710a"/>
<rect x="339.34" y="796.64" width="5.8" height="18.63" fill="#f9ab00"/>
<rect x="339.34" y="775.49" width="5.8" height="21.15" fill="#7cb342"/>
<rect x="339.34" y="755.69" width="5.8" height="19.80" fill="#9334e6"/>
<rect x="346.47" y="879.36" width="5.8" height="12.24" fill="#1a73e8"/>
<rect x="346.47" y="859.38" width="5.8" height="19.98" fill="#12b5cb"/>
<rect x="346.47" y="830.39" width="5.8" height="28.98" fill="#e52592"/>
<rect x="346.47" y="804.29" width="5.8" height="26.10" fill="#e8710a"/>
<rect x="346.47" y="786.92" width="5.8" height="17.37" fill="#f9ab00"/>
<rect x="346.47" y="763.07" width="5.8" height="23.85" fill="#7cb342"/>
<rect x="346.47" y="750.47" width="5.8" height="12.60" fill="#9334e6"/>
<rect x="353.60" y="879.36" width="5.8" height="12.24" fill="#1a73e8"/>
<rect x="353.60" y="855.60" width="5.8" height="23.76" fill="#12b5cb"/>
<rect x="353.60" y="836.87" width="5.8" height="18.72" fill="#e52592"/>
<rect x="353.60" y="813.02" width="5.8" height="23.85" fill="#e8710a"/>
<rect x="353.60" y="790.52" width="5.8" height="22.50" fill="#f9ab00"/>
<rect x="353.60" y="773.15" width="5.8" height="17.37" fill="#7cb342"/>
<rect x="353.60" y="753.17" width="5.8" height="19.98" fill="#9334e6"/>
<rect x="360.73" y="881.88" width="5.8" height="9.72" fill="#1a73e8"/>
<rect x="360.73" y="856.86" width="5.8" height="25.02" fill="#12b5cb"/>
<rect x="360.73" y="833.09" width="5.8" height="23.76" fill="#e52592"/>
<rect x="360.73" y="809.15" width="5.8" height="23.94" fill="#e8710a"/>
<rect x="360.73" y="783.05" width="5.8" height="26.10" fill="#f9ab00"/>
<rect x="360.73" y="763.07" width="5.8" height="19.98" fill="#7cb342"/>
<rect x="360.73" y="749.39" width="5.8" height="13.68" fill="#9334e6"/>
<rect x="367.86" y="881.88" width="5.8" height="9.72" fill="#1a73e8"/>
<rect x="367.86" y="858.03" width="5.8" height="23.85" fill="#12b5cb"/>
<rect x="367.86" y="831.92" width="5.8" height="26.10" fill="#e52592"/>
<rect x="367.86" y="808.07" width="5.8" height="23.85" fill="#e8710a"/>
<rect x="367.86" y="780.62" width="5.8" height="27.45" fill="#f9ab00"/>
<rect x="367.86" y="763.07" width="5.8" height="17.55" fill="#7cb342"/>
<rect x="367.86" y="746.87" width="5.8" height="16.20" fill="#9334e6"/>
<rect x="374.99" y="876.93" width="5.8" height="14.67" fill="#1a73e8"/>
<rect x="374.99" y="836.87" width="5.8" height="40.05" fill="#12b5cb"/>
<rect x="374.99" y="814.37" width="5.8" height="22.50" fill="#e52592"/>
<rect x="374.99" y="783.32" width="5.8" height="31.05" fill="#e8710a"/>
<rect x="374.99" y="754.25" width="5.8" height="29.07" fill="#f9ab00"/>
<rect x="374.99" y="736.96" width="5.8" height="17.28" fill="#7cb342"/>
<rect x="374.99" y="716.71" width="5.8" height="20.25" fill="#9334e6"/>
<rect x="382.12" y="879.36" width="5.8" height="12.24" fill="#1a73e8"/>
<rect x="382.12" y="849.30" width="5.8" height="30.06" fill="#12b5cb"/>
<rect x="382.12" y="815.27" width="5.8" height="34.02" fill="#e52592"/>
<rect x="382.12" y="785.57" width="5.8" height="29.70" fill="#e8710a"/>
<rect x="382.12" y="751.82" width="5.8" height="33.75" fill="#f9ab00"/>
<rect x="382.12" y="728.14" width="5.8" height="23.67" fill="#7cb342"/>
<rect x="382.12" y="705.28" width="5.8" height="22.86" fill="#9334e6"/>
<rect x="389.25" y="874.23" width="5.8" height="17.37" fill="#1a73e8"/>
<rect x="389.25" y="841.83" width="5.8" height="32.40" fill="#12b5cb"/>
<rect x="389.25" y="808.07" width="5.8" height="33.75" fill="#e52592"/>
<rect x="389.25" y="768.29" width="5.8" height="39.78" fill="#e8710a"/>
<rect x="389.25" y="735.34" width="5.8" height="32.94" fill="#f9ab00"/>
<rect x="389.25" y="704.29" width="5.8" height="31.05" fill="#7cb342"/>
<rect x="389.25" y="678.28" width="5.8" height="26.01" fill="#9334e6"/>
<rect x="396.38" y="878.28" width="5.8" height="13.32" fill="#1a73e8"/>
<rect x="396.38" y="845.43" width="5.8" height="32.85" fill="#12b5cb"/>
<rect x="396.38" y="815.27" width="5.8" height="30.15" fill="#e52592"/>
<rect x="396.38" y="789.35" width="5.8" height="25.92" fill="#e8710a"/>
<rect x="396.38" y="763.07" width="5.8" height="26.28" fill="#f9ab00"/>
<rect x="396.38" y="749.39" width="5.8" height="13.68" fill="#7cb342"/>
<rect x="396.38" y="725.26" width="5.8" height="24.12" fill="#9334e6"/>
<rect x="403.51" y="876.93" width="5.8" height="14.67" fill="#1a73e8"/>
<rect x="403.51" y="848.13" width="5.8" height="28.80" fill="#12b5cb"/>
<rect x="403.51" y="819.32" width="5.8" height="28.80" fill="#e52592"/>
<rect x="403.51" y="790.52" width="5.8" height="28.80" fill="#e8710a"/>
<rect x="403.51" y="760.37" width="5.8" height="30.15" fill="#f9ab00"/>
<rect x="403.51" y="738.04" width="5.8" height="22.32" fill="#7cb342"/>
<rect x="403.51" y="720.31" width="5.8" height="17.73" fill="#9334e6"/>
<rect x="410.64" y="880.53" width="5.8" height="11.07" fill="#1a73e8"/>
<rect x="410.64" y="851.73" width="5.8" height="28.80" fill="#12b5cb"/>
<rect x="410.64" y="822.92" width="5.8" height="28.80" fill="#e52592"/>
<rect x="410.64" y="795.47" width="5.8" height="27.45" fill="#e8710a"/>
<rect x="410.64" y="773.15" width="5.8" height="22.32" fill="#f9ab00"/>
<rect x="410.64" y="756.77" width="5.8" height="16.38" fill="#7cb342"/>
<rect x="410.64" y="736.96" width="5.8" height="19.80" fill="#9334e6"/>
<rect x="417.77" y="880.53" width="5.8" height="11.07" fill="#1a73e8"/>
<rect x="417.77" y="846.78" width="5.8" height="33.75" fill="#12b5cb"/>
<rect x="417.77" y="819.32" width="5.8" height="27.45" fill="#e52592"/>
<rect x="417.77" y="791.87" width="5.8" height="27.45" fill="#e8710a"/>
<rect x="417.77" y="769.37" width="5.8" height="22.50" fill="#f9ab00"/>
<rect x="417.77" y="750.47" width="5.8" height="18.90" fill="#7cb342"/>
<rect x="417.77" y="730.48" width="5.8" height="19.98" fill="#9334e6"/>
<rect x="424.90" y="883.23" width="5.8" height="8.37" fill="#1a73e8"/>
<rect x="424.90" y="849.30" width="5.8" height="33.93" fill="#12b5cb"/>
<rect x="424.90" y="816.89" width="5.8" height="32.40" fill="#e52592"/>
<rect x="424.90" y="790.52" width="5.8" height="26.37" fill="#e8710a"/>
<rect x="424.90" y="761.72" width="5.8" height="28.80" fill="#f9ab00"/>
<rect x="424.90" y="745.52" width="5.8" height="16.20" fill="#7cb342"/>
<rect x="424.90" y="725.26" width="5.8" height="20.25" fill="#9334e6"/>
<rect x="432.03" y="880.53" width="5.8" height="11.07" fill="#1a73e8"/>
<rect x="432.03" y="849.30" width="5.8" height="31.23" fill="#12b5cb"/>
<rect x="432.03" y="815.27" width="5.8" height="34.02" fill="#e52592"/>
<rect x="432.03" y="789.35" width="5.8" height="25.92" fill="#e8710a"/>
<rect x="432.03" y="759.29" width="5.8" height="30.06" fill="#f9ab00"/>
<rect x="432.03" y="740.38" width="5.8" height="18.90" fill="#7cb342"/>
<rect x="432.03" y="717.16" width="5.8" height="23.22" fill="#9334e6"/>
<rect x="439.16" y="881.88" width="5.8" height="9.72" fill="#1a73e8"/>
<rect x="439.16" y="853.08" width="5.8" height="28.80" fill="#12b5cb"/>
<rect x="439.16" y="825.35" width="5.8" height="27.72" fill="#e52592"/>
<rect x="439.16" y="800.42" width="5.8" height="24.93" fill="#e8710a"/>
<rect x="439.16" y="765.59" width="5.8" height="34.83" fill="#f9ab00"/>
<rect x="439.16" y="748.22" width="5.8" height="17.37" fill="#7cb342"/>
<rect x="439.16" y="725.26" width="5.8" height="22.95" fill="#9334e6"/>
<rect x="446.29" y="883.23" width="5.8" height="8.37" fill="#1a73e8"/>
<rect x="446.29" y="854.16" width="5.8" height="29.07" fill="#12b5cb"/>
<rect x="446.29" y="820.49" width="5.8" height="33.66" fill="#e52592"/>
<rect x="446.29" y="788.09" width="5.8" height="32.40" fill="#e8710a"/>
<rect x="446.29" y="763.07" width="5.8" height="25.02" fill="#f9ab00"/>
<rect x="446.29" y="739.21" width="5.8" height="23.85" fill="#7cb342"/>
<rect x="446.29" y="719.41" width="5.8" height="19.80" fill="#9334e6"/>
<rect x="453.42" y="881.88" width="5.8" height="9.72" fill="#1a73e8"/>
<rect x="453.42" y="859.38" width="5.8" height="22.50" fill="#12b5cb"/>
<rect x="453.42" y="833.09" width="5.8" height="26.28" fill="#e52592"/>
<rect x="453.42" y="803.12" width="5.8" height="29.97" fill="#e8710a"/>
<rect x="453.42" y="774.32" width="5.8" height="28.80" fill="#f9ab00"/>
<rect x="453.42" y="756.77" width="5.8" height="17.55" fill="#7cb342"/>
<rect x="453.42" y="736.96" width="5.8" height="19.80" fill="#9334e6"/>
<rect x="460.55" y="883.23" width="5.8" height="8.37" fill="#1a73e8"/>
<rect x="460.55" y="860.46" width="5.8" height="22.77" fill="#12b5cb"/>
<rect x="460.55" y="840.47" width="5.8" height="19.98" fill="#e52592"/>
<rect x="460.55" y="816.89" width="5.8" height="23.58" fill="#e8710a"/>
<rect x="460.55" y="793.22" width="5.8" height="23.67" fill="#f9ab00"/>
<rect x="460.55" y="776.75" width="5.8" height="16.47" fill="#7cb342"/>
<rect x="460.55" y="763.07" width="5.8" height="13.68" fill="#9334e6"/>
<rect x="467.68" y="883.23" width="5.8" height="8.37" fill="#1a73e8"/>
<rect x="467.68" y="871.98" width="5.8" height="11.25" fill="#12b5cb"/>
<rect x="467.68" y="856.86" width="5.8" height="15.12" fill="#e52592"/>
<rect x="467.68" y="838.22" width="5.8" height="18.63" fill="#e8710a"/>
<rect x="467.68" y="820.49" width="5.8" height="17.73" fill="#f9ab00"/>
<rect x="467.68" y="809.15" width="5.8" height="11.34" fill="#7cb342"/>
<rect x="467.68" y="798.17" width="5.8" height="10.98" fill="#9334e6"/>
<rect x="474.81" y="890.43" width="5.8" height="1.17" fill="#1a73e8"/>
<rect x="474.81" y="888.00" width="5.8" height="2.43" fill="#12b5cb"/>
<rect x="474.81" y="884.40" width="5.8" height="3.60" fill="#e52592"/>
<rect x="474.81" y="880.53" width="5.8" height="3.87" fill="#e8710a"/>
<rect x="474.81" y="877.38" width="5.8" height="3.15" fill="#f9ab00"/>
<rect x="474.81" y="876.48" width="5.8" height="0.90" fill="#7cb342"/>
<rect x="474.81" y="874.23" width="5.8" height="2.25" fill="#9334e6"/>
<text x="109.5" y="718.4" class="ax" text-anchor="end">400</text><text x="109.5" y="807.5" class="ax" text-anchor="end">200</text><text x="109.5" y="896.6" class="ax" text-anchor="end">0</text><text x="142.4" y="915.3" class="ax" text-anchor="middle">2016</text><text x="227.8" y="915.3" class="ax" text-anchor="middle">2017</text><text x="313.6" y="915.3" class="ax" text-anchor="middle">2018</text><text x="398.9" y="915.3" class="ax" text-anchor="middle">2019</text><text x="306" y="938.6" class="ax" text-anchor="middle">Created Month</text><text transform="translate(71.5,782) rotate(-90)" class="ax" text-anchor="middle">Users</text><circle cx="94.9" cy="973.7" r="7.4" fill="#1a73e8"/><text x="111.5" y="979.0" class="lg">10 to 19</text><circle cx="226" cy="973.7" r="7.4" fill="#12b5cb"/><text x="242.6" y="979.0" class="lg">20 to 29</text><circle cx="357.1" cy="973.7" r="7.4" fill="#e52592"/><text x="373.70000000000005" y="979.0" class="lg">30 to 39</text><circle cx="94.9" cy="992.4000000000001" r="7.4" fill="#e8710a"/><text x="111.5" y="997.7" class="lg">40 to 49</text><circle cx="226" cy="992.4000000000001" r="7.4" fill="#f9ab00"/><text x="242.6" y="997.7" class="lg">50 to 59</text><circle cx="357.1" cy="992.4000000000001" r="7.4" fill="#7cb342"/><text x="373.70000000000005" y="997.7" class="lg">60 to 69</text><circle cx="94.9" cy="1011.1" r="7.4" fill="#9334e6"/><text x="111.5" y="1016.4" class="lg">70 or Above</text>
<path d="M598 700.8H952.3M598 753.1H952.3M598 805.5H952.3M598 858.1H952.3" stroke="#e4e5e8" stroke-width="1.3"/>
<path d="M598 910.6H952.3" stroke="#c3d1ec" stroke-width="1.3"/>
<path d="M600.4 777.1L644.8 762L685.2 787.2L729.5 778.8L772.6 763.7L817 753.6L860.2 775.9L904.2 752.4L949.2 748.3" fill="none" stroke="#f9ab00" stroke-width="2.3" stroke-linejoin="round"/>
<path d="M600.4 738.7L644.8 758.9L685.2 719.5L729.5 732.5L772.6 717.1L817 720.7L860.2 678.7L904.2 675.1L949.2 694.8" fill="none" stroke="#e8710a" stroke-width="2.3" stroke-linejoin="round"/>
<path d="M600.4 718.8L644.8 733.9L685.2 702.2L729.5 711.6L772.6 714L817 718.3L860.2 684L904.2 675.1L949.2 675.1" fill="none" stroke="#e52592" stroke-width="2.3" stroke-linejoin="round"/>
<path d="M600.4 736.3L644.8 725.3L685.2 718.1L729.5 720L772.6 718.8L817 705.1L860.2 675.1L904.2 691.7L949.2 718.8" fill="none" stroke="#12b5cb" stroke-width="2.3" stroke-linejoin="round"/>
<path d="M600.4 703.2L644.8 731.5L685.2 707.3L729.5 692.4L772.6 704.4L817 696L860.2 696.7L904.2 718.8L949.2 693.6" fill="none" stroke="#1a73e8" stroke-width="2.3" stroke-linejoin="round"/>
<text x="578.6" y="705.8" class="ax" text-anchor="end">200</text><text x="578.6" y="758.1" class="ax" text-anchor="end">150</text><text x="578.6" y="810.5" class="ax" text-anchor="end">100</text><text x="578.6" y="863.1" class="ax" text-anchor="end">50</text><text x="578.6" y="915.6" class="ax" text-anchor="end">0</text><text x="600.5" y="933.7" class="ax" text-anchor="middle">January '19</text><text x="729.6" y="933.7" class="ax" text-anchor="middle">April</text><text x="860.2" y="933.7" class="ax" text-anchor="middle">July</text><text x="775.4" y="956.8" class="ax" text-anchor="middle">Created Month</text><text transform="translate(540,792) rotate(-90)" class="ax" text-anchor="middle">Orders</text><path d="M591.2 994.1h19.8" stroke="#1a73e8" stroke-width="2.4"/><text x="617.6" y="997.3000000000001" class="lg">20 to 29</text><path d="M697.5 994.1h19.8" stroke="#12b5cb" stroke-width="2.4"/><text x="723.9" y="997.3000000000001" class="lg">30 to 39</text><path d="M803.8 994.1h19.8" stroke="#e52592" stroke-width="2.4"/><text x="830.1999999999999" y="997.3000000000001" class="lg">40 to 49</text><path d="M591.2 1012.6h19.8" stroke="#e8710a" stroke-width="2.4"/><text x="617.6" y="1015.8000000000001" class="lg">50 to 59</text><path d="M697.5 1012.6h19.8" stroke="#f9ab00" stroke-width="2.4"/><text x="723.9" y="1015.8000000000001" class="lg">60 to 69</text>
</svg>
</body></html>
